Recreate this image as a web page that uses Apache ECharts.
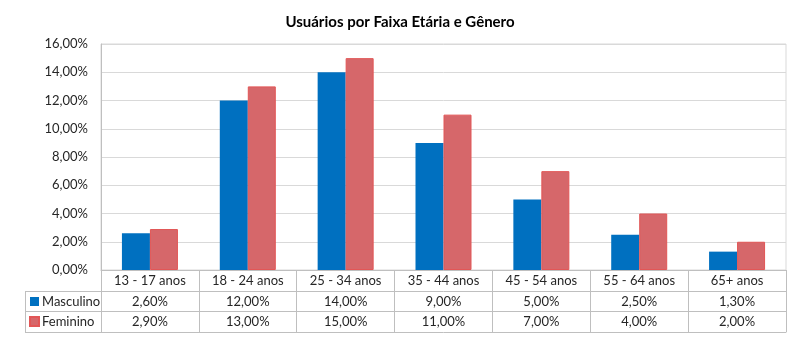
<!DOCTYPE html>
<html><head><meta charset="utf-8">
<script src="https://cdn.jsdelivr.net/npm/echarts@6/dist/echarts.min.js"></script>
<style>html,body{margin:0;padding:0;background:#fff}#c{width:800px;height:348px}</style>
</head><body><div id="c"></div>
<script>
var categories = ['13 - 17 anos','18 - 24 anos','25 - 34 anos','35 - 44 anos','45 - 54 anos','55 - 64 anos','65+ anos'];
var masculino = [2.6, 12, 14, 9, 5, 2.5, 1.3];
var feminino = [2.9, 13, 15, 11, 7, 4, 2];
var seriesNames = ['Masculino','Feminino'];
var yTicks = {min:0, max:16, interval:2};

function pct(v){ return v.toFixed(2).replace('.', ',') + '%'; }
var FONT = 'Lato';
var lineC = '#bfbfbf';
var txt = '#262626';

function tableAxis(offset, fmt, showTicks, tickLen){
  return {
    type:'category', data:categories, position:'bottom', offset:offset, gridIndex:0,
    axisLine:{show:true, lineStyle:{color:lineC, width:1}},
    axisTick:{show:showTicks, interval:0, length:tickLen, lineStyle:{color:lineC}},
    axisLabel:{show:!!fmt, interval:0, margin:4, color:txt, fontFamily:FONT, fontSize:13, formatter:fmt},
    splitLine:{show:false}
  };
}

var chart = echarts.init(document.getElementById('c'), null, {renderer:'canvas'});
chart.setOption({
  animation:false,
  title:{text:'Usuários por Faixa Etária e Gênero', left:'center', top:10,
    textStyle:{fontFamily:FONT, fontSize:15, fontWeight:'bold', color:'#000'}},
  legend:{orient:'vertical', left:29, top:294, padding:0, itemGap:5, itemWidth:9, itemHeight:9, icon:'rect',
    data:seriesNames, textStyle:{fontFamily:FONT, fontSize:13, lineHeight:15, color:txt, padding:[0,0,0,-2]}},
  grid:{left:101, right:14, top:44, bottom:78, show:true, borderColor:'#d9d9d9', borderWidth:1},
  xAxis:[
    tableAxis(0, function(v){return v;}, true, 21),
    tableAxis(21, function(v,i){return pct(masculino[i]);}, true, 20),
    tableAxis(41, function(v,i){return pct(feminino[i]);}, true, 21),
    tableAxis(62, null, false, 0)
  ],
  yAxis:{type:'value', min:yTicks.min, max:yTicks.max, interval:yTicks.interval,
    axisLine:{show:true, lineStyle:{color:lineC}}, axisTick:{show:false},
    splitLine:{lineStyle:{color:'#d9d9d9'}},
    axisLabel:{margin:13, color:txt, fontFamily:FONT, fontSize:13, formatter:function(v){return pct(v);}}},
  series:[
    {name:seriesNames[0], type:'bar', xAxisIndex:0, data:masculino, barWidth:28, barGap:'0%',
      itemStyle:{color:'#0070C0'}},
    {name:seriesNames[1], type:'bar', xAxisIndex:0, data:feminino, barWidth:28, barGap:'0%',
      itemStyle:{color:'#D6676A', borderColor:'#E25656', borderWidth:1}}
  ],
  graphic:[
    {type:'line', shape:{x1:25, y1:291.5, x2:101, y2:291.5}, style:{stroke:lineC, lineWidth:1}},
    {type:'line', shape:{x1:25, y1:311.5, x2:101, y2:311.5}, style:{stroke:lineC, lineWidth:1}},
    {type:'line', shape:{x1:25, y1:332.5, x2:101, y2:332.5}, style:{stroke:lineC, lineWidth:1}},
    {type:'line', shape:{x1:25.5, y1:291, x2:25.5, y2:333}, style:{stroke:lineC, lineWidth:1}}
  ]
});
</script></body></html>
